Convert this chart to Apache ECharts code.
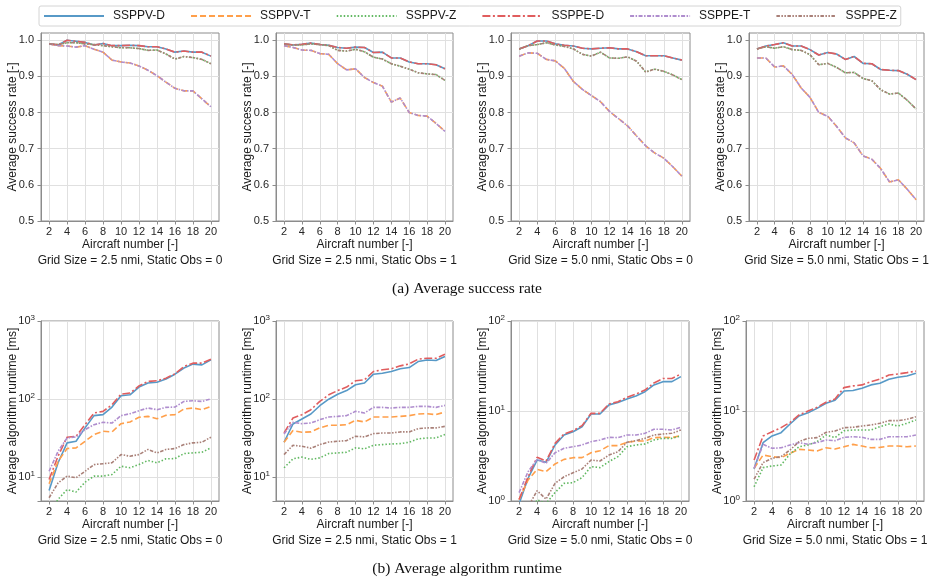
<!DOCTYPE html>
<html>
<head>
<meta charset="utf-8">
<script src="https://cdn.jsdelivr.net/npm/echarts@6/dist/echarts.min.js"></script>
<style>
html, body { margin: 0; padding: 0; background: #fff; }
#chart { width: 934px; height: 581px; }
</style>
</head>
<body>
<div id="chart"></div>
<script>
const aircraft = [2, 3, 4, 5, 6, 7, 8, 9, 10, 11, 12, 13, 14, 15, 16, 17, 18, 19, 20];
const xTicks = [2, 4, 6, 8, 10, 12, 14, 16, 18, 20];
const rateTicks = [0.5, 0.6, 0.7, 0.8, 0.9, 1.0];
const seriesNames = ["SSPPV-D", "SSPPV-T", "SSPPV-Z", "SSPPE-D", "SSPPE-T", "SSPPE-Z"];
const panelTitles = [
  "Grid Size = 2.5 nmi, Static Obs = 0",
  "Grid Size = 2.5 nmi, Static Obs = 1",
  "Grid Size = 5.0 nmi, Static Obs = 0",
  "Grid Size = 5.0 nmi, Static Obs = 1"
];

// (a) success rate, V and E variants overlap
const rateD1 = [0.990, 0.987, 1.000, 0.997, 0.994, 0.987, 0.991, 0.985, 0.985, 0.986, 0.985, 0.982, 0.982, 0.976, 0.967, 0.970, 0.967, 0.967, 0.956];
const rateZ1 = [0.990, 0.988, 0.993, 0.993, 0.990, 0.988, 0.985, 0.982, 0.979, 0.979, 0.977, 0.972, 0.973, 0.962, 0.948, 0.955, 0.952, 0.947, 0.935];
const rateT1 = [0.990, 0.985, 0.984, 0.981, 0.985, 0.975, 0.967, 0.945, 0.940, 0.937, 0.929, 0.917, 0.902, 0.884, 0.867, 0.860, 0.860, 0.838, 0.816];

const rateD2 = [0.990, 0.987, 0.989, 0.992, 0.988, 0.986, 0.980, 0.978, 0.981, 0.980, 0.966, 0.967, 0.951, 0.951, 0.940, 0.935, 0.935, 0.932, 0.921];
const rateZ2 = [0.989, 0.987, 0.987, 0.990, 0.988, 0.985, 0.972, 0.970, 0.975, 0.968, 0.953, 0.948, 0.935, 0.928, 0.920, 0.910, 0.907, 0.905, 0.889];
const rateT2 = [0.985, 0.980, 0.973, 0.972, 0.963, 0.961, 0.935, 0.918, 0.921, 0.897, 0.883, 0.873, 0.829, 0.840, 0.800, 0.792, 0.790, 0.770, 0.748];

const rateD3 = [0.976, 0.985, 0.998, 0.998, 0.990, 0.986, 0.984, 0.978, 0.976, 0.978, 0.979, 0.976, 0.976, 0.968, 0.957, 0.957, 0.957, 0.951, 0.945];
const rateZ3 = [0.976, 0.985, 0.988, 0.993, 0.987, 0.983, 0.976, 0.961, 0.956, 0.967, 0.951, 0.950, 0.954, 0.942, 0.912, 0.920, 0.914, 0.904, 0.891];
const rateT3 = [0.956, 0.965, 0.964, 0.947, 0.943, 0.922, 0.886, 0.864, 0.847, 0.830, 0.803, 0.783, 0.763, 0.735, 0.708, 0.688, 0.674, 0.650, 0.624];

const rateD4 = [0.976, 0.984, 0.988, 0.993, 0.984, 0.984, 0.974, 0.959, 0.966, 0.962, 0.947, 0.955, 0.936, 0.935, 0.919, 0.917, 0.916, 0.906, 0.891];
const rateZ4 = [0.976, 0.982, 0.978, 0.982, 0.974, 0.972, 0.960, 0.932, 0.936, 0.925, 0.910, 0.911, 0.894, 0.888, 0.863, 0.851, 0.854, 0.834, 0.810];
const rateT4 = [0.951, 0.951, 0.926, 0.929, 0.905, 0.868, 0.842, 0.800, 0.790, 0.762, 0.730, 0.716, 0.680, 0.671, 0.645, 0.608, 0.614, 0.588, 0.559];

// (b) runtime in ms
const rtVD1 = [6.8, 15.4, 27.7, 29, 43, 61.7, 63.5, 79.4, 111, 114, 143, 161, 165, 181, 209, 250, 281, 275, 318];
const rtVT1 = [8.3, 16.1, 23.4, 23.9, 29, 35.3, 39, 38.2, 48.7, 51.2, 58.7, 60.4, 56.4, 62.2, 63.5, 75, 77.2, 73.5, 81];
const rtVZ1 = [3.5, 5.25, 7.0, 6.5, 8.7, 10.4, 10.4, 10.9, 13.9, 13.3, 14.6, 16.5, 15.4, 17.3, 17.4, 20.2, 20.6, 21, 23.9];
const rtED1 = [9.4, 18.7, 32.7, 33.6, 47.3, 66.7, 70, 85, 116, 120, 148, 169, 172, 186, 211, 262, 289, 289, 325];
const rtET1 = [12, 21.6, 32, 33, 40.8, 47.3, 50.7, 49.6, 61.7, 65.3, 71.4, 77.2, 73.5, 78.7, 79.4, 93.7, 95.6, 93.7, 101];
const rtEZ1 = [5.5, 8.5, 10.4, 9.9, 12, 14.6, 15, 15.4, 19.6, 18.7, 19.6, 22.8, 20.6, 22.8, 23.4, 26.3, 27.7, 28.2, 32.7];

const rtVD2 = [28.2, 48.3, 55.9, 64.7, 82.6, 100, 116, 129, 153, 161, 209, 215, 226, 245, 254, 303, 318, 312, 352];
const rtVT2 = [28.2, 39.7, 37.8, 38.2, 43, 46.5, 46.5, 47.3, 53.7, 51.2, 59.3, 59.3, 59.3, 60.4, 61.7, 64.7, 65.3, 63.5, 68.7];
const rtVZ2 = [13.3, 17.3, 18.2, 17, 17.8, 20.2, 20.6, 21, 23.9, 23.2, 25.8, 26.3, 26.8, 27.1, 28.2, 31.1, 32, 32, 35.3];
const rtED2 = [37, 57.5, 63.5, 73.5, 93.7, 114, 129, 143, 172, 177, 226, 238, 245, 267, 283, 325, 334, 334, 376];
const rtET2 = [36, 50.7, 48.7, 49.6, 54.8, 59.3, 60.4, 61.7, 70, 66.7, 78.7, 78.7, 77.2, 78.7, 78.7, 81, 81, 78.7, 83.4];
const rtEZ2 = [19.6, 25.8, 25, 23.7, 26.3, 28.4, 29, 29.6, 33.6, 33, 36.3, 37, 37, 38.2, 38.2, 42.1, 43, 43, 45];

const rtVD3 = [0.93, 1.79, 2.85, 2.69, 4.19, 5.41, 5.89, 6.69, 9.26, 9.26, 11.7, 12.4, 13.6, 14.7, 16.4, 19.5, 21.2, 21.2, 24.1];
const rtVT3 = [1.04, 1.71, 2.25, 2.12, 2.58, 2.9, 3.03, 3.03, 3.44, 3.62, 4.12, 4.12, 4.49, 4.64, 4.64, 5.06, 5.1, 5.06, 5.32];
const rtVZ3 = [0.7, 0.6, 1.03, 0.94, 1.24, 1.57, 1.6, 1.82, 2.41, 2.35, 2.74, 3.11, 4.01, 4.19, 4.3, 4.76, 4.97, 4.97, 5.28];
const rtED3 = [1.04, 1.86, 3.06, 2.78, 4.37, 5.55, 6.04, 6.87, 9.42, 9.42, 11.97, 12.7, 14.2, 15.4, 17.1, 20.5, 23, 23, 25.8];
const rtET3 = [1.24, 2.12, 2.9, 2.62, 3.44, 3.85, 4.01, 4.19, 4.56, 4.76, 5.1, 5.06, 5.41, 5.41, 5.65, 6.26, 6.26, 6.15, 6.59];
const rtEZ3 = [0.8, 0.86, 1.3, 1.05, 1.57, 1.86, 2.06, 2.27, 2.85, 2.78, 3.24, 3.53, 4.49, 4.68, 4.97, 5.41, 5.55, 5.65, 6.15];

const rtVD4 = [2.27, 4.45, 5.28, 5.74, 7.17, 8.8, 9.58, 10.7, 12.2, 13.2, 16.7, 16.9, 17.9, 19.5, 20.3, 22.5, 23.7, 24.5, 26.2];
const rtVT4 = [2.31, 3.24, 3.11, 3.03, 3.39, 3.75, 3.69, 3.6, 3.9, 3.78, 4.01, 4.26, 4.08, 3.9, 3.94, 4.08, 4.08, 4.01, 4.08];
const rtVZ4 = [1.44, 2.35, 2.45, 2.51, 3.33, 4.01, 4.19, 4.56, 5.41, 5.06, 6.04, 6.15, 6.15, 6.15, 6.69, 7.17, 6.81, 7.3, 7.94];
const rtED4 = [2.85, 5.28, 5.89, 6.53, 7.48, 9.03, 10, 11, 12.5, 13.6, 18.2, 19, 19.5, 21.2, 22.7, 25.1, 25.8, 26.7, 27.8];
const rtET4 = [2.31, 4.26, 3.85, 3.9, 4.19, 4.45, 4.26, 4.45, 4.76, 4.68, 5.1, 5.18, 5.1, 4.84, 4.84, 5.18, 5.18, 5.18, 5.41];
const rtEZ4 = [1.75, 2.67, 2.98, 3.11, 3.69, 4.56, 4.97, 5.06, 5.79, 5.99, 6.53, 6.59, 6.81, 6.99, 7.3, 7.81, 7.81, 8.08, 8.65];

const panelData = [
  [rateD1, rateT1, rateZ1, rateD1, rateT1, rateZ1],
  [rateD2, rateT2, rateZ2, rateD2, rateT2, rateZ2],
  [rateD3, rateT3, rateZ3, rateD3, rateT3, rateZ3],
  [rateD4, rateT4, rateZ4, rateD4, rateT4, rateZ4],
  [rtVD1, rtVT1, rtVZ1, rtED1, rtET1, rtEZ1],
  [rtVD2, rtVT2, rtVZ2, rtED2, rtET2, rtEZ2],
  [rtVD3, rtVT3, rtVZ3, rtED3, rtET3, rtEZ3],
  [rtVD4, rtVT4, rtVZ4, rtED4, rtET4, rtEZ4]
];

const FONT = "Liberation Sans";
const lineColors = ["#5799c7", "#ff9f4a", "#61b861", "#e05d5e", "#af8dce", "#a98078"];
const lineTypes = ["solid", [6, 3], [1.5, 2], [8, 2.5, 2, 2.5], [4, 1.5, 1.5, 1.5], [3.5, 1.5, 1.5, 1.5, 1.5, 1.5]];

const gridBoxes = [
  { left: 41, top: 33, width: 178, height: 188 },
  { left: 276, top: 33, width: 177, height: 188 },
  { left: 511, top: 33, width: 179, height: 188 },
  { left: 749, top: 33, width: 175, height: 188 },
  { left: 41, top: 321, width: 178, height: 180 },
  { left: 276, top: 321, width: 177, height: 180 },
  { left: 511, top: 321, width: 178, height: 180 },
  { left: 746, top: 321, width: 178, height: 180 }
];

const grids = gridBoxes.map(b => Object.assign({ show: true, borderColor: "#8c8c8c", borderWidth: 1 }, b));

const xAxes = gridBoxes.map((b, p) => ({
  type: "value",
  gridIndex: p,
  min: 1.1,
  max: 20.9,
  name: "Aircraft number [-]\n" + panelTitles[p % 4],
  nameLocation: "middle",
  nameGap: 16,
  nameMoveOverlap: false,
  nameTextStyle: { fontFamily: FONT, fontSize: 12, color: "#1a1a1a", lineHeight: 16 },
  axisLine: { show: true, onZero: false, lineStyle: { color: "#8c8c8c" } },
  axisTick: { show: true, customValues: xTicks, length: 3.5, lineStyle: { color: "#8c8c8c" } },
  axisLabel: { customValues: xTicks, fontFamily: FONT, fontSize: 11, color: "#262626", margin: 5 },
  splitLine: { show: true, lineStyle: { color: "#e0e0e0" } }
}));

const yAxes = gridBoxes.map((b, p) => {
  const common = {
    gridIndex: p,
    nameLocation: "middle",
    nameGap: 22,
    nameMoveOverlap: false,
    nameTextStyle: { fontFamily: FONT, fontSize: 12, color: "#1a1a1a" },
    axisLine: { show: true, onZero: false, lineStyle: { color: "#8c8c8c" } },
    axisTick: { show: true, length: 3.5, lineStyle: { color: "#8c8c8c" } },
    splitLine: { show: true, lineStyle: { color: "#e0e0e0" } }
  };
  if (p < 4) {
    return Object.assign(common, {
      type: "value",
      min: 0.5,
      max: 1.02,
      name: "Average success rate [-]",
      axisTick: { show: true, customValues: rateTicks, length: 3.5, lineStyle: { color: "#8c8c8c" } },
      axisLabel: { customValues: rateTicks, fontFamily: FONT, fontSize: 11, color: "#262626", margin: 7,
        formatter: v => v.toFixed(1) }
    });
  }
  return Object.assign(common, {
    type: "log",
    logBase: 10,
    min: p < 6 ? 5 : 1,
    max: p < 6 ? 1000 : 100,
    name: "Average algorithm runtime [ms]",
    axisLabel: {
      fontFamily: FONT, fontSize: 11, color: "#262626", margin: 6,
      formatter: v => {
        const e = Math.log10(v);
        if (Math.abs(e - Math.round(e)) > 1e-6) return "";
        return "10{s|" + Math.round(e) + "}";
      },
      rich: { s: { fontFamily: FONT, fontSize: 8, color: "#262626", padding: [0, 0, 7, 0] } }
    }
  });
});

const series = [];
panelData.forEach((arrs, p) => {
  arrs.forEach((arr, s) => {
    series.push({
      type: "line",
      name: seriesNames[s],
      xAxisIndex: p,
      yAxisIndex: p,
      data: aircraft.map((x, i) => [x, arr[i]]),
      symbol: "none",
      clip: true,
      animation: false,
      lineStyle: { color: lineColors[s], width: 1.6, type: lineTypes[s] },
      itemStyle: { color: lineColors[s] }
    });
  });
});

const chart = echarts.init(document.getElementById("chart"));
chart.setOption({
  backgroundColor: "#fff",
  animation: false,
  legend: {
    data: seriesNames,
    left: 39,
    top: 6,
    itemWidth: 60,
    itemHeight: 12,
    itemGap: 25,
    padding: [4, 4, 4, 4],
    borderColor: "#d4d4d4",
    borderWidth: 1,
    borderRadius: 2,
    itemStyle: { opacity: 0, borderWidth: 0 },
    textStyle: { fontFamily: FONT, fontSize: 12, color: "#1a1a1a", padding: [0, 0, 0, 4] }
  },
  grid: grids,
  xAxis: xAxes,
  yAxis: yAxes,
  series: series,
  graphic: [
    { type: "text", left: "center", top: 281,
      style: { text: "(a) Average success rate", font: '15.5px "Liberation Serif"', fill: "#111" } },
    { type: "text", left: "center", top: 561,
      style: { text: "(b) Average algorithm runtime", font: '15.5px "Liberation Serif"', fill: "#111" } }
  ]
});
</script>
</body>
</html>
